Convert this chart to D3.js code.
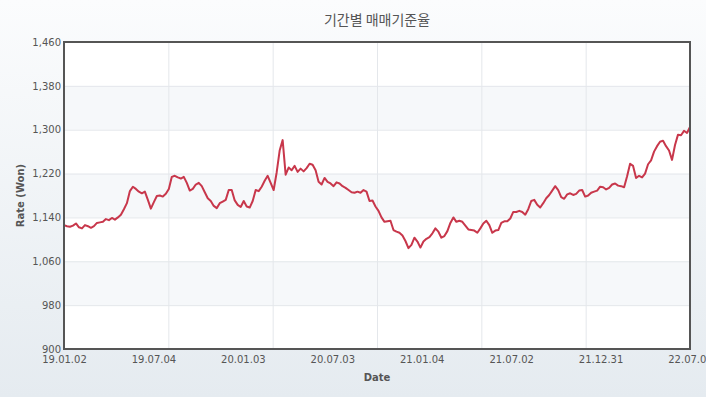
<!DOCTYPE html>
<html>
<head>
<meta charset="utf-8">
<script src="https://cdn.jsdelivr.net/npm/d3@7"></script>
<style>
  html, body { margin: 0; padding: 0; }
  body { width: 706px; height: 397px; overflow: hidden; }
</style>
</head>
<body>
<div id="rate-graph"></div>
<script>
// chart values (one sample about every 4 trading days)
var title = "기간별 매매기준율";
var yLabel = "Rate (Won)";
var xLabel = "Date";

var dateLabels = ["19.01.02", "19.07.04", "20.01.03", "20.07.03", "21.01.04", "21.07.02", "21.12.31", "22.07.05"];

var yTicks = [900, 980, 1060, 1140, 1220, 1300, 1380, 1460];

var rates = [
    1126, 1124, 1123, 1125, 1129, 1122, 1120, 1126, 1124, 1121,
    1124, 1130, 1131, 1132, 1137, 1135, 1139, 1136, 1140, 1145,
    1155, 1166, 1188, 1196, 1192, 1187, 1184, 1187, 1172, 1156,
    1168, 1179, 1180, 1178, 1183, 1192, 1214, 1216, 1213, 1211,
    1214, 1203, 1189, 1192, 1200, 1203, 1197, 1186, 1175, 1170,
    1161, 1157, 1166, 1169, 1172, 1190, 1190, 1171, 1163, 1159,
    1170, 1160, 1158, 1170, 1190, 1188, 1196, 1207, 1216, 1203,
    1190, 1222, 1262, 1281, 1218, 1231, 1226, 1234, 1223, 1229,
    1224, 1230, 1238, 1236, 1226, 1205, 1200, 1212, 1205, 1202,
    1197, 1204, 1202, 1197, 1194, 1190, 1186, 1185, 1187, 1185,
    1190, 1187, 1170, 1171, 1160, 1152, 1140, 1132, 1133, 1134,
    1117, 1114, 1112, 1107, 1097, 1084, 1090, 1103, 1096, 1085,
    1096, 1101, 1104, 1111, 1120, 1114, 1103, 1106, 1115, 1130,
    1140, 1132, 1134, 1132, 1125, 1118, 1117, 1116, 1112, 1120,
    1129, 1134, 1126, 1112, 1116, 1117, 1130, 1133, 1133, 1138,
    1150, 1150, 1152, 1150, 1145, 1155, 1170, 1172, 1163, 1158,
    1166, 1175, 1181, 1189, 1197, 1190, 1177, 1174, 1182, 1184,
    1181, 1183, 1189, 1190, 1178, 1180, 1185, 1187, 1189, 1196,
    1195, 1191, 1194, 1200, 1202, 1198, 1197, 1195, 1215, 1238,
    1234, 1212, 1216, 1213, 1220, 1237, 1244, 1260, 1270, 1278,
    1280, 1270, 1262, 1245, 1272, 1291, 1290, 1298, 1294, 1305
];

var margin = {top: 42, right: 16, bottom: 48, left: 64};
var width = 706, height = 397;
var w = width - margin.left - margin.right,
    h = height - margin.top - margin.bottom;

var svg = d3.select("#rate-graph").append("svg")
    .attr("width", width)
    .attr("height", height)
    .style("font-family", "'DejaVu Sans', Verdana, sans-serif");

// page background
var grad = svg.append("defs").append("linearGradient")
    .attr("id", "bg")
    .attr("x1", "0").attr("y1", "0").attr("x2", "0").attr("y2", "1");
grad.append("stop").attr("offset", "0%").attr("stop-color", "#fbfcfd");
grad.append("stop").attr("offset", "100%").attr("stop-color", "#e5ebf0");

svg.append("rect")
    .attr("width", width)
    .attr("height", height)
    .attr("fill", "url(#bg)");

var g = svg.append("g").attr("transform", "translate(" + margin.left + "," + margin.top + ")");

var last = rates.length - 1;

var x = d3.scaleLinear()
    .domain([0, last])
    .range([0, w]);

var y = d3.scaleLinear()
    .domain([yTicks[0], yTicks[yTicks.length - 1]])
    .range([h, 0]);

g.append("rect")
    .attr("width", w)
    .attr("height", h)
    .attr("fill", "#fff");

// alternating bands
var bands = yTicks.slice(0, -1).filter(function(d, i) { return i % 2 == 1; });
g.selectAll(".band")
    .data(bands)
    .enter().append("rect")
    .attr("class", "band")
    .attr("x", 0)
    .attr("width", w)
    .attr("y", function(d) { return y(d + 80); })
    .attr("height", function(d) { return y(d) - y(d + 80); })
    .attr("fill", "#f6f8fa");

// grid lines
g.append("g")
    .attr("class", "ygrid")
    .call(d3.axisLeft(y).tickValues(yTicks.slice(1, -1)).tickSize(-w).tickFormat(""))
    .call(function(s) { s.select(".domain").remove(); })
    .selectAll("line").attr("stroke", "#e4e7eb");

var gridIdx = d3.range(1, 6).map(function(k) { return k * last / 6; });
g.append("g")
    .attr("class", "xgrid")
    .attr("transform", "translate(0," + h + ")")
    .call(d3.axisBottom(x).tickValues(gridIdx).tickSize(-h).tickFormat(""))
    .call(function(s) { s.select(".domain").remove(); })
    .selectAll("line").attr("stroke", "#e4e7eb");

// the rate line
var line = d3.line()
    .x(function(d, i) { return x(i); })
    .y(function(d) { return y(d); });

g.append("path")
    .datum(rates)
    .attr("fill", "none")
    .attr("stroke", "#c8374b")
    .attr("stroke-width", 2)
    .attr("stroke-linejoin", "round")
    .attr("d", line);

// frame
g.append("rect")
    .attr("width", w)
    .attr("height", h)
    .attr("fill", "none")
    .attr("stroke", "#555")
    .attr("stroke-width", 2);

// y axis labels
var yAxis = g.append("g")
    .call(d3.axisLeft(y).tickValues(yTicks).tickSize(0).tickPadding(3).tickFormat(d3.format(",")));
yAxis.select(".domain").remove();
yAxis.selectAll("text")
    .attr("fill", "#555")
    .style("font-size", "10px")
    .style("font-family", "'DejaVu Sans', Verdana, sans-serif");

// x axis labels, one every seventh of the range
var labelIdx = dateLabels.map(function(d, i) { return i * last / (dateLabels.length - 1); });
var xAxis = g.append("g")
    .attr("transform", "translate(0," + h + ")")
    .call(d3.axisBottom(x).tickValues(labelIdx).tickSize(0).tickPadding(7)
        .tickFormat(function(d, i) { return dateLabels[i]; }));
xAxis.select(".domain").remove();
xAxis.selectAll("text")
    .attr("fill", "#555")
    .style("font-size", "10px")
    .style("font-family", "'DejaVu Sans', Verdana, sans-serif");

// titles
svg.append("text")
    .attr("x", margin.left + w / 2)
    .attr("y", 25)
    .attr("text-anchor", "middle")
    .attr("fill", "#555")
    .style("font-family", "'Noto Sans CJK KR', sans-serif")
    .style("font-size", "14px")
    .text(title);

svg.append("text")
    .attr("x", margin.left + w / 2)
    .attr("y", 381)
    .attr("text-anchor", "middle")
    .attr("fill", "#555")
    .style("font-size", "10px")
    .style("font-weight", "bold")
    .text(xLabel);

svg.append("text")
    .attr("transform", "translate(24," + (margin.top + h / 2) + ") rotate(-90)")
    .attr("text-anchor", "middle")
    .attr("fill", "#555")
    .style("font-size", "10px")
    .style("font-weight", "bold")
    .text(yLabel);
</script>
</body>
</html>
